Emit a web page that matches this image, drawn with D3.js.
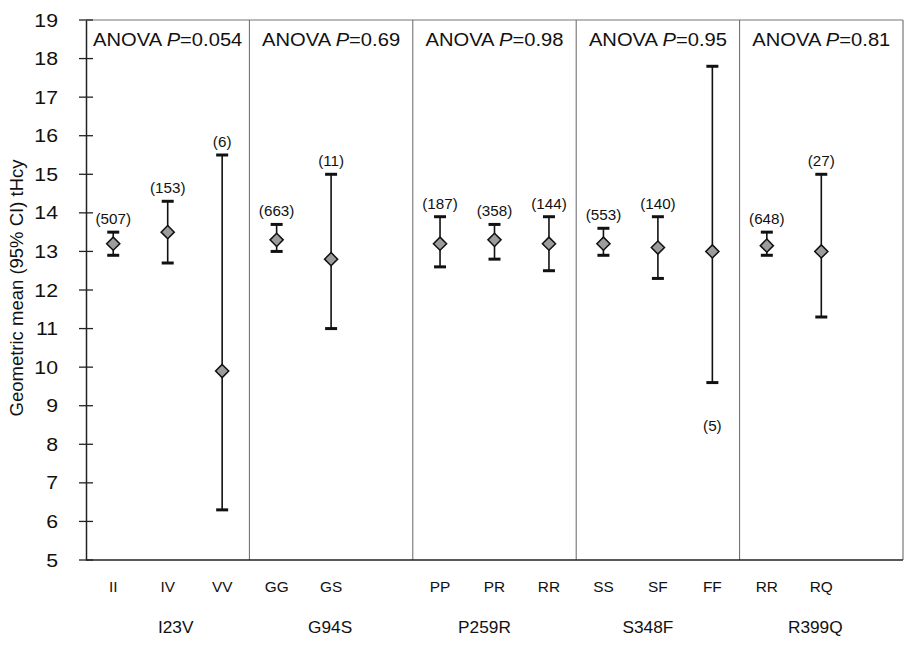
<!DOCTYPE html>
<html>
<head>
<meta charset="utf-8">
<script src="https://cdn.jsdelivr.net/npm/d3@7"></script>
<style>
  body { margin: 0; background: #fff; }
  text { font-family: "Liberation Sans", Arial, sans-serif; fill: #111; }
</style>
</head>
<body>
<svg id="chart" width="905" height="654"></svg>
<script>
// polymorphisms, one panel each
var polymorphisms = ["I23V", "G94S", "P259R", "S348F", "R399Q"];
var anovaP = ["0.054", "0.69", "0.98", "0.95", "0.81"];

// genotypes per panel
var genotypes = [
    ["II", "IV", "VV"],
    ["GG", "GS"],
    ["PP", "PR", "RR"],
    ["SS", "SF", "FF"],
    ["RR", "RQ"]
];

// geometric mean with 95% CI, and n
var means = [[13.2, 13.5, 9.9], [13.3, 12.8], [13.2, 13.3, 13.2], [13.2, 13.1, 13.0], [13.15, 13.0]];
var lower = [[12.9, 12.7, 6.3], [13.0, 11.0], [12.6, 12.8, 12.5], [12.9, 12.3, 9.6], [12.9, 11.3]];
var upper = [[13.5, 14.3, 15.5], [13.7, 15.0], [13.9, 13.7, 13.9], [13.6, 13.9, 17.8], [13.5, 15.0]];
var counts = [[507, 153, 6], [663, 11], [187, 358, 144], [553, 140, 5], [648, 27]];

var yTicks = d3.range(5, 20);

var svg = d3.select("#chart");
var plotLeft = 86, plotRight = 903, plotTop = 20, plotBottom = 560;
// the polymorphism names do not sit exactly under the panel centres
var groupShift = [8, -1, -10, -10, -6];

var y = d3.scaleLinear().domain([5, 19]).range([plotBottom, plotTop]);
var xPanel = d3.scaleBand().domain(d3.range(polymorphisms.length)).range([plotLeft, plotRight]);
var xSlot = d3.scaleBand().domain([0, 1, 2]).range([0, xPanel.bandwidth()]);

//flatten into one row per genotype
var points = [];
genotypes.forEach(function(g, i) {
    g.forEach(function(name, j) {
        points.push({
            panel: i, slot: j, name: name,
            mean: means[i][j], lo: lower[i][j], hi: upper[i][j], n: counts[i][j]
        });
    });
});
function px(d) { return xPanel(d.panel) + xSlot(d.slot) + xSlot.bandwidth() / 2; }

// stretched text, the scan is wider than the font
function wide(sel, x, yy, sx) {
    sel.attr("transform", function(d, i) {
        return "translate(" + x(d, i) + "," + yy(d, i) + ") scale(" + sx + ",1)";
    });
}

// panel frame: top and right border, dividers
svg.append("line").attr("x1", plotLeft).attr("x2", plotRight).attr("y1", plotTop).attr("y2", plotTop)
    .attr("stroke", "#777").attr("stroke-width", 1.2);
svg.append("line").attr("x1", plotRight).attr("x2", plotRight).attr("y1", plotTop).attr("y2", plotBottom)
    .attr("stroke", "#777").attr("stroke-width", 1.2);
svg.selectAll(".divider").data(d3.range(1, polymorphisms.length)).enter().append("line")
    .attr("class", "divider")
    .attr("x1", function(i) { return xPanel(i); }).attr("x2", function(i) { return xPanel(i); })
    .attr("y1", plotTop).attr("y2", plotBottom)
    .attr("stroke", "#666").attr("stroke-width", 1);

// y axis
var yAxis = svg.append("g").attr("transform", "translate(" + plotLeft + ",0)")
    .call(d3.axisLeft(y).tickValues(yTicks).tickSize(0).tickPadding(25));
yAxis.select(".domain").attr("stroke", "#222").attr("stroke-width", 1.5);
yAxis.selectAll("text").attr("font-size", 19).attr("transform", "scale(1.12,1)")
    .style("font-family", '"Liberation Sans", Arial, sans-serif').attr("fill", "#111");
svg.selectAll(".ytick").data(yTicks).enter().append("line")
    .attr("x1", plotLeft - 7).attr("x2", plotLeft + 7)
    .attr("y1", function(d) { return y(d); }).attr("y2", function(d) { return y(d); })
    .attr("stroke", "#222").attr("stroke-width", 1.3);

// x axis line
svg.append("line").attr("x1", plotLeft).attr("x2", plotRight).attr("y1", plotBottom).attr("y2", plotBottom)
    .attr("stroke", "#222").attr("stroke-width", 1.5);

svg.append("text")
    .attr("transform", "translate(23," + ((plotTop + plotBottom) / 2 - 2) + ") rotate(-90)")
    .attr("text-anchor", "middle").attr("font-size", 18.5)
    .text("Geometric mean (95% CI) tHcy");

// ANOVA titles
var titles = svg.selectAll(".anova").data(polymorphisms).enter().append("text")
    .attr("class", "anova").attr("text-anchor", "middle").attr("font-size", 18);
wide(titles, function(d, i) { return xPanel(i) + xPanel.bandwidth() / 2; }, function() { return 46; }, 1.12);
titles.append("tspan").text("ANOVA ");
titles.append("tspan").attr("font-style", "italic").text("P");
titles.append("tspan").text(function(d, i) { return "=" + anovaP[i]; });

// polymorphism names under the axis
var groups = svg.selectAll(".group").data(polymorphisms).enter().append("text")
    .attr("text-anchor", "middle").attr("font-size", 16)
    .text(function(d) { return d; });
wide(groups, function(d, i) { return xPanel(i) + xPanel.bandwidth() / 2 + groupShift[i]; },
    function() { return 633; }, 1.08);

// genotype labels
var geno = svg.selectAll(".geno").data(points).enter().append("text")
    .attr("text-anchor", "middle").attr("font-size", 14)
    .text(function(d) { return d.name; });
wide(geno, px, function() { return 592; }, 1.1);

// error bars
var bars = svg.selectAll(".bar").data(points).enter().append("g");
bars.append("line")
    .attr("x1", px).attr("x2", px)
    .attr("y1", function(d) { return y(d.hi); }).attr("y2", function(d) { return y(d.lo); })
    .attr("stroke", "#111").attr("stroke-width", 1.6);
["hi", "lo"].forEach(function(k) {
    bars.append("line")
        .attr("x1", function(d) { return px(d) - 6; }).attr("x2", function(d) { return px(d) + 6; })
        .attr("y1", function(d) { return y(d[k]); }).attr("y2", function(d) { return y(d[k]); })
        .attr("stroke", "#111").attr("stroke-width", 3);
});
bars.append("path")
    .attr("d", d3.symbol().type(d3.symbolDiamond2).size(110))
    .attr("transform", function(d) { return "translate(" + px(d) + "," + y(d.mean) + ")"; })
    .attr("fill", "#9c9c9c").attr("stroke", "#111").attr("stroke-width", 1.5);

// n labels: above the bar, or below when the bar reaches high up
var nLab = bars.append("text")
    .attr("text-anchor", "middle").attr("font-size", 14.5)
    .text(function(d) { return "(" + d.n + ")"; });
wide(nLab, px, function(d) { return d.hi > 17 ? y(d.lo) + 48 : y(d.hi) - 8; }, 1.05);
</script>
</body>
</html>
